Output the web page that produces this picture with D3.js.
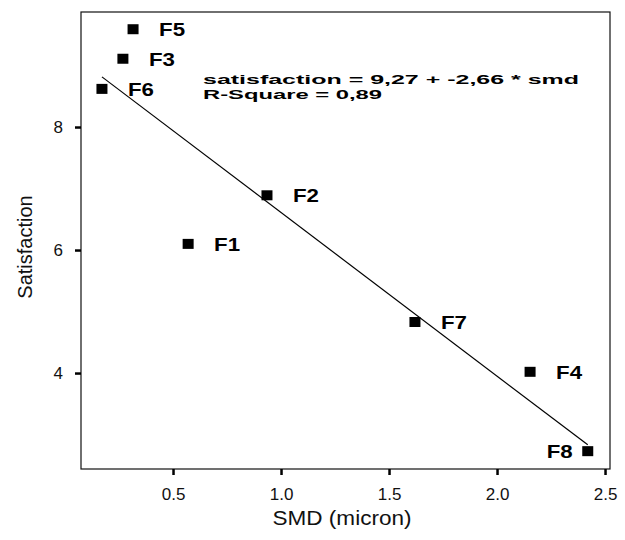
<!DOCTYPE html>
<meta charset="utf-8">
<style>
body { margin: 0; background: #fff; }
svg { font-family: "Liberation Sans", Arial, sans-serif; }
.frame { fill: none; stroke: #111; stroke-width: 1.2; }
.axis .tick line { stroke: #000; stroke-width: 2.5; }
.axis .tick text { font-size: 17px; fill: #111; }
.pt { fill: #000; }
.lbl { font-weight: bold; font-size: 19px; fill: #000; }
.fit { stroke: #000; stroke-width: 1.2; fill: none; }
.eq { font-weight: bold; font-size: 13px; fill: #000; }
</style>
<script src="https://d3js.org/d3.v7.min.js"></script>

<svg id="chart" width="625" height="540"></svg>
<script>

// data
var names = ["F1", "F2", "F3", "F4", "F5", "F6", "F7", "F8"];
var smd = [0.57, 0.935, 0.268, 2.153, 0.315, 0.171, 1.62, 2.42];
var satisfaction = [6.10, 6.89, 9.11, 4.02, 9.59, 8.62, 4.83, 2.73];
var xTicks = [0.5, 1.0, 1.5, 2.0, 2.5];
var yTicks = [4, 6, 8];
var intercept = 9.27, slope = -2.66;
var eqLines = ["satisfaction = 9,27 + -2,66 * smd", "R-Square = 0,89"];

var svg = d3.select("#chart");

var plotL = 81, plotR = 610, plotT = 12, plotB = 469;

var x = d3.scaleLinear().domain([0.074, 2.523]).range([plotL, plotR]);
var y = d3.scaleLinear().domain([2.44, 9.87]).range([plotB, plotT]);

var pts = names.map(function(n, i) { return {name: n, x: smd[i], y: satisfaction[i]}; });

// frame
svg.append("rect")
    .attr("class", "frame")
    .attr("x", plotL).attr("y", plotT)
    .attr("width", plotR - plotL).attr("height", plotB - plotT);

// axes
svg.append("g")
    .attr("class", "axis")
    .attr("transform", "translate(" + plotL + ",0)")
    .call(d3.axisLeft(y).tickValues(yTicks).tickSize(6).tickPadding(12).tickFormat(d3.format("d")))
    .select(".domain").remove();

svg.append("g")
    .attr("class", "axis")
    .attr("transform", "translate(0," + plotB + ")")
    .call(d3.axisBottom(x).tickValues(xTicks).tickSize(6).tickPadding(13).tickFormat(d3.format(".1f")))
    .select(".domain").remove();

svg.selectAll(".axis").attr("font-family", null).attr("font-size", null);

// axis titles
svg.append("text")
    .attr("transform", "translate(32,247) rotate(-90)")
    .attr("text-anchor", "middle")
    .attr("font-size", 20)
    .attr("fill", "#111")
    .text("Satisfaction");

svg.append("text")
    .attr("x", 342).attr("y", 525)
    .attr("text-anchor", "middle")
    .attr("font-size", 20)
    .attr("textLength", 139)
    .attr("lengthAdjust", "spacingAndGlyphs")
    .attr("fill", "#111")
    .text("SMD (micron)");

// fitted line over the data range
var xr = d3.extent(smd);
svg.append("line")
    .attr("class", "fit")
    .attr("x1", x(xr[0])).attr("y1", y(intercept + slope * xr[0]))
    .attr("x2", x(xr[1])).attr("y2", y(intercept + slope * xr[1]));

// points
svg.selectAll("rect.pt")
    .data(pts)
  .enter().append("rect")
    .attr("class", "pt")
    .attr("x", function(d) { return x(d.x) - 5.5; })
    .attr("y", function(d) { return y(d.y) - 5; })
    .attr("width", 11)
    .attr("height", 10);

svg.selectAll("text.lbl")
    .data(pts)
  .enter().append("text")
    .attr("class", "lbl")
    .attr("x", function(d) { return d.name === "F8" ? x(d.x) - 15 : x(d.x) + 26; })
    .attr("y", function(d) { return y(d.y); })
    .attr("dy", "0.36em")
    .attr("text-anchor", function(d) { return d.name === "F8" ? "end" : "start"; })
    .attr("textLength", 26)
    .attr("lengthAdjust", "spacingAndGlyphs")
    .text(function(d) { return d.name; });

// equation
svg.append("text").attr("class", "eq")
    .attr("x", 203).attr("y", 84)
    .attr("textLength", 376).attr("lengthAdjust", "spacingAndGlyphs")
    .text(eqLines[0]);
svg.append("text").attr("class", "eq")
    .attr("x", 203).attr("y", 99)
    .attr("textLength", 179).attr("lengthAdjust", "spacingAndGlyphs")
    .text(eqLines[1]);

</script>
